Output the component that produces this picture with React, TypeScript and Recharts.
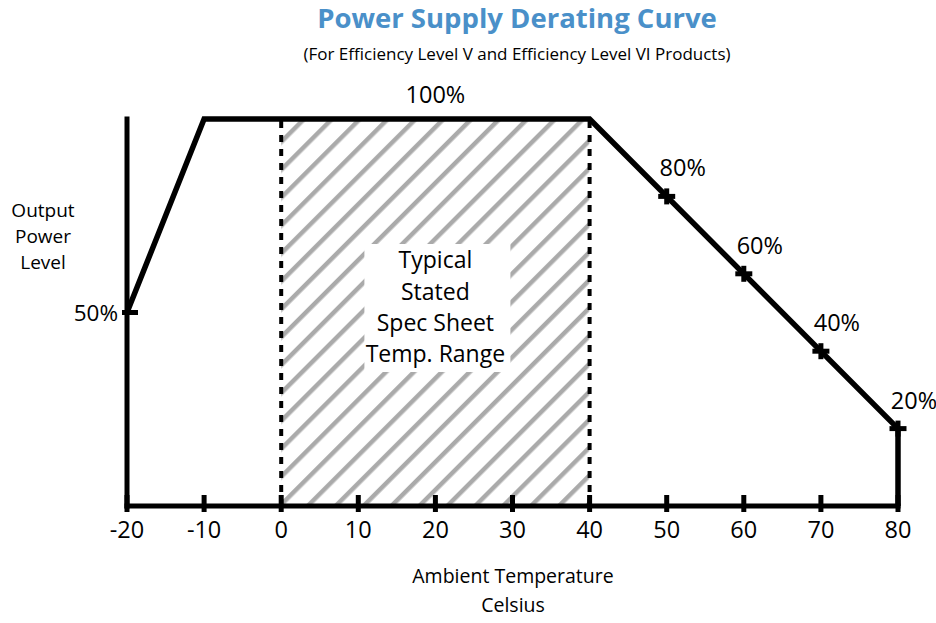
import React from 'react';
import {
  ComposedChart,
  Line,
  Scatter,
  XAxis,
  YAxis,
  ReferenceArea,
  ReferenceLine,
  ReferenceDot,
} from 'recharts';

// ---- data ----
const curveTemps = [-20, -10, 40, 80, 80];
const curvePower = [50, 100, 100, 20, 0];
const markerTemps = [50, 60, 70, 80];
const markerPower = [80, 60, 40, 20];
const xTicks = [-20, -10, 0, 10, 20, 30, 40, 50, 60, 70, 80];
const yTicks = [50];
const tempDomain = [-20, 80];
const powerDomain = [0, 100];
const specRange = [0, 40];
const peakLabelTemp = 20;
const peakPower = 100;
const specLabelLines = ['Typical', 'Stated', 'Spec Sheet', 'Temp. Range'];
const titleText = 'Power Supply Derating Curve';
const subtitleText = '(For Efficiency Level V and Efficiency Level VI Products)';
const yTitleLines = ['Output', 'Power', 'Level'];
const xTitleLines = ['Ambient Temperature', 'Celsius'];

const curveData = curveTemps.map((t, i) => ({ temp: t, power: curvePower[i] }));
const markerData = markerTemps.map((t, i) => ({ temp: t, power: markerPower[i] }));

const FONT = '"Open Sans", "Noto Sans", sans-serif';
const INK = '#000';

const XTick = (props: any) => {
  const { x, y, payload } = props;
  return (
    <g>
      <line x1={x} x2={x} y1={y - 11} y2={y + 6} stroke={INK} strokeWidth={5} />
      <text x={x} y={y + 32} textAnchor="middle" fontFamily={FONT} fontSize={23.5} fill={INK}>
        {payload.value}
      </text>
    </g>
  );
};

const YTick = (props: any) => {
  const { x, y, payload } = props;
  return (
    <g>
      <line x1={x - 5} x2={x + 11} y1={y} y2={y} stroke={INK} strokeWidth={5} />
      <text x={x - 9} y={y + 8} textAnchor="end" fontFamily={FONT} fontSize={22.5} fill={INK}>
        {payload.value}%
      </text>
    </g>
  );
};

const PlusMarker = (props: any) => {
  const { cx, cy, payload } = props;
  return (
    <g>
      <line x1={cx - 8.5} x2={cx + 8.5} y1={cy} y2={cy} stroke={INK} strokeWidth={5} />
      <line x1={cx} x2={cx} y1={cy - 8} y2={cy + 8} stroke={INK} strokeWidth={5} />
      <text x={cx + 16} y={cy - 20} textAnchor="middle" fontFamily={FONT} fontSize={23.5} fill={INK}>
        {payload.power}%
      </text>
    </g>
  );
};

const renderSpecBox = (props: any) => {
  const vb = props.viewBox;
  const cx = vb.x + vb.width / 2;
  const cy = vb.y + vb.height / 2;
  const offsets = [-52.5, -20.5, 10.5, 41.5];
  return (
    <g>
      <rect x={cx - 71} y={cy - 68.5} width={146} height={128} fill="#fff" />
      {specLabelLines.map((s, i) => (
        <text
          key={s}
          x={cx}
          y={cy + offsets[i] + 8}
          textAnchor="middle"
          fontFamily={FONT}
          fontSize={23}
          fill={INK}
        >
          {s}
        </text>
      ))}
    </g>
  );
};

const renderPeakLabel = (props: any) => {
  const vb = props.viewBox;
  return (
    <text
      x={vb.x + (vb.width || 0) / 2}
      y={vb.y + (vb.height || 0) / 2 - 16}
      textAnchor="middle"
      fontFamily={FONT}
      fontSize={23.5}
      fill={INK}
    >
      {peakPower}%
    </text>
  );
};

export default function App() {
  return (
    <div style={{ position: 'absolute', left: 0, top: 0, width: 936, height: 623, background: '#fff' }}>
      <ComposedChart
        width={936}
        height={623}
        margin={{ top: 119, right: 38, bottom: 116, left: 126 }}
        style={{ overflow: 'visible' }}
      >
        <defs>
          <pattern
            id="hatch"
            patternUnits="userSpaceOnUse"
            width={19.73}
            height={19.73}
            patternTransform="rotate(45)"
          >
            <rect x={0} y={0} width={19.73} height={19.73} fill="#fff" />
            <line x1={3.2} x2={3.2} y1={-2} y2={22} stroke="#aaaaaa" strokeWidth={4.5} />
          </pattern>
        </defs>
        <text x={517} y={28} textAnchor="middle" fontFamily={FONT} fontWeight={700} fontSize={27.5} fill="#4a90c9">
          {titleText}
        </text>
        <text x={517} y={60} textAnchor="middle" fontFamily={FONT} fontSize={17} fill={INK}>
          {subtitleText}
        </text>
        {yTitleLines.map((s, i) => (
          <text key={s} x={43} y={217 + i * 26} textAnchor="middle" fontFamily={FONT} fontSize={19} fill={INK}>
            {s}
          </text>
        ))}
        {xTitleLines.map((s, i) => (
          <text key={s} x={513} y={583 + i * 29} textAnchor="middle" fontFamily={FONT} fontSize={19.5} fill={INK}>
            {s}
          </text>
        ))}
        <XAxis
          type="number"
          dataKey="temp"
          domain={tempDomain}
          ticks={xTicks}
          height={1}
          tickSize={0}
          tickMargin={0}
          tickLine={false}
          tick={<XTick />}
          axisLine={{ stroke: INK, strokeWidth: 5, strokeLinecap: 'square' }}
        />
        <YAxis
          type="number"
          dataKey="power"
          domain={powerDomain}
          ticks={yTicks}
          width={1}
          tickSize={0}
          tickMargin={0}
          tickLine={false}
          tick={<YTick />}
          axisLine={{ stroke: INK, strokeWidth: 5, strokeLinecap: 'square' }}
        />
        <ReferenceArea
          x1={specRange[0]}
          x2={specRange[1]}
          y1={powerDomain[0]}
          y2={powerDomain[1]}
          fill="url(#hatch)"
          fillOpacity={1}
          stroke="none"
          label={renderSpecBox}
        />
        {specRange.map((t) => (
          <ReferenceLine key={t} x={t} stroke={INK} strokeWidth={4} strokeDasharray="7 7" />
        ))}
        <Line
          data={curveData}
          dataKey="power"
          type="linear"
          stroke={INK}
          strokeWidth={5.5}
          strokeLinejoin="miter"
          dot={false}
          activeDot={false}
          isAnimationActive={false}
        />
        <Scatter data={markerData} dataKey="power" shape={<PlusMarker />} isAnimationActive={false} />
        <ReferenceDot
          x={peakLabelTemp}
          y={peakPower}
          r={0}
          fill="none"
          stroke="none"
          label={renderPeakLabel}
        />
      </ComposedChart>
    </div>
  );
}
